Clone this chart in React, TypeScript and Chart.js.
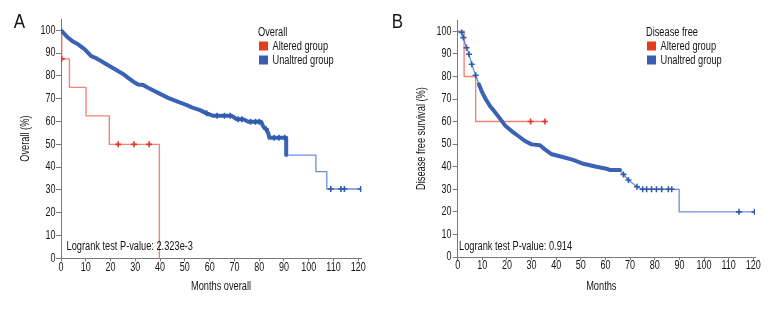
import React, { useEffect, useRef } from "react";
import { Chart, registerables } from "chart.js";
Chart.register(...registerables);

const FONT = "'Liberation Sans', Arial, sans-serif";
const SQUEEZE_TEXT = 0.74;
const SQUEEZE_TICK = 0.75;

const X_TICKS = [0, 10, 20, 30, 40, 50, 60, 70, 80, 90, 100, 110, 120];
const Y_TICKS = [0, 10, 20, 30, 40, 50, 60, 70, 80, 90, 100];

// ---------- Panel A : Overall ----------
const A_ALT_T = [0, 0.3, 3.4, 10.1, 19.5, 39.7];
const A_ALT_S = [100, 87.5, 75, 62.5, 50, 0];
const A_ALT_CENS_T = [0.3, 23.1, 29.5, 35.6];
const A_ALT_CENS_S = [87.5, 50, 50, 50];

const A_UN_T = [0, 2.8, 5, 6.9, 9.6, 12.2, 14.4, 16.3, 19.7, 23, 25.2, 27.1, 29.2, 31.1, 33.2, 35.1, 39.2, 43.2, 47.3, 50.8, 52.8, 56.1, 58.8, 61.5, 68.9, 71, 73.6, 75.6, 80.8, 81.7, 82.8, 83.7, 84.1, 90.9, 90.9, 102.9, 102.9, 107.3, 107.3, 121];
const A_UN_S = [100, 96.8, 95, 93.9, 91.7, 88.7, 87.7, 86.5, 84.3, 82.2, 80.8, 79.2, 77.5, 76.3, 76, 74.8, 72.6, 70.4, 68.6, 67.2, 66.2, 65, 63.6, 62.5, 62.5, 61, 61, 59.9, 59.9, 57.7, 56.6, 54.8, 52.9, 52.9, 45.3, 45.3, 38, 38, 30.4, 30.4];
const A_UN_DENSE_END = 91;
const A_UN_CENS_T = [58.8, 63, 66, 68.3, 71.5, 73, 76.5, 78.5, 80, 82.8, 86, 88, 90.3, 108.9, 113, 114.4, 121];
const A_UN_CENS_S = [63.6, 62.5, 62.5, 62.5, 61, 61, 59.9, 59.9, 59.9, 56.6, 52.9, 52.9, 52.9, 30.4, 30.4, 30.4, 30.4];

// ---------- Panel B : Disease free ----------
const B_ALT_T = [0, 2.6, 7.3, 35.4];
const B_ALT_S = [100, 80, 60, 60];
const B_ALT_CENS_T = [29.6, 35.4];
const B_ALT_CENS_S = [60, 60];

const B_UN_T = [0, 1.6, 2.3, 3.6, 4.6, 5.7, 7.3, 8.6, 10, 11.4, 13.1, 15.1, 17.2, 19.2, 21.9, 24.6, 27.3, 30, 33.4, 35.4, 38.2, 42.2, 46.9, 51, 56.3, 60.4, 62, 65.9, 67.3, 69.3, 72.8, 74.8, 89.9, 89.9, 120.5];
const B_UN_S = [100, 99.5, 97.2, 92.7, 89.8, 85.4, 80.5, 76.5, 72.8, 69.9, 66.9, 64.2, 61.3, 58.3, 55.8, 53.6, 51.4, 49.9, 49.5, 47.7, 45.5, 44.4, 43, 41.3, 40, 39.1, 38.5, 38.5, 36.6, 34.1, 31.1, 30, 30, 20, 20];
const B_UN_DENSE_START = 8.6;
const B_UN_DENSE_END = 66;
const B_UN_CENS_T = [1.6, 2.3, 3.6, 4.6, 5.7, 7.3, 67.3, 69.3, 72.8, 75.1, 76.7, 78.7, 80.7, 82.8, 85.5, 86.9, 114.2, 120.5];
const B_UN_CENS_S = [99.5, 97.2, 92.7, 89.8, 85.4, 80.5, 36.6, 34.1, 31.1, 30, 30, 30, 30, 30, 30, 30, 20, 20];

const RED_LINE = "rgba(240,110,95,0.85)";
const RED_MARK = "#e2352a";
const BLUE_LINE = "rgba(90,130,215,0.9)";
const BLUE_BAND = "#3a62b5";
const BLUE_MARK = "#2f5aae";
const AXIS = "#7a7a7a";
const TEXT = "#151515";

const pts = (t: number[], s: number[]) => t.map((x, i) => ({ x, y: s[i] }));

type PanelCfg = {
  letter: string;
  letterX: number;
  yTitle: string;
  yTitleX: number;
  xTitle: string;
  xTitleX: number;
  legendTitle: string;
  legendX: number;
  logrank: string;
  logrankX: number;
  left: number;
  right: number;
  top: number;
  bottom: number;
  xMax: number;
  labelRight: number;
  datasets: any[];
};

function squeezed(ctx: CanvasRenderingContext2D, text: string, x: number, y: number, align: CanvasTextAlign, sx: number, rotate = 0) {
  ctx.save();
  ctx.translate(x, y);
  if (rotate) ctx.rotate(rotate);
  ctx.scale(sx, 1);
  ctx.textAlign = align;
  ctx.fillText(text, 0, 0);
  ctx.restore();
}

function Panel({ cfg }: { cfg: PanelCfg }) {
  const ref = useRef<HTMLCanvasElement | null>(null);
  useEffect(() => {
    const canvas = ref.current!;
    const textPlugin = {
      id: "texts",
      afterDraw(chart: any) {
        const ctx = chart.ctx as CanvasRenderingContext2D;
        const area = chart.chartArea;
        const xs = chart.scales.x;
        const ys = chart.scales.y;
        ctx.save();
        ctx.fillStyle = TEXT;
        ctx.textBaseline = "middle";
        // tick labels, placed by the library's scales
        ctx.font = `12px ${FONT}`;
        xs.ticks.forEach((t: any) => {
          squeezed(ctx, String(t.value), xs.getPixelForValue(t.value), area.bottom + 9, "center", SQUEEZE_TICK);
        });
        ys.ticks.forEach((t: any) => {
          squeezed(ctx, String(t.value), cfg.labelRight, ys.getPixelForValue(t.value), "right", SQUEEZE_TICK);
        });
        // letter
        ctx.font = `20px ${FONT}`;
        squeezed(ctx, cfg.letter, cfg.letterX, 22, "center", 0.85);
        // x title
        ctx.font = `12.5px ${FONT}`;
        squeezed(ctx, cfg.xTitle, cfg.xTitleX, 287, "center", SQUEEZE_TEXT);
        // y title
        squeezed(ctx, cfg.yTitle, cfg.yTitleX, (area.top + area.bottom) / 2, "center", SQUEEZE_TEXT, -Math.PI / 2);
        // legend
        squeezed(ctx, cfg.legendTitle, cfg.legendX, 32.5, "left", SQUEEZE_TEXT);
        ctx.fillStyle = "#e23d1f";
        ctx.fillRect(cfg.legendX + 1, 41.5, 9, 9);
        ctx.fillStyle = "#3a5db2";
        ctx.fillRect(cfg.legendX + 1, 55.5, 9, 9);
        ctx.fillStyle = TEXT;
        squeezed(ctx, "Altered group", cfg.legendX + 14.5, 46.3, "left", SQUEEZE_TEXT);
        squeezed(ctx, "Unaltred group", cfg.legendX + 14.5, 60.3, "left", SQUEEZE_TEXT);
        // logrank
        squeezed(ctx, cfg.logrank, cfg.logrankX, 246.7, "left", SQUEEZE_TEXT);
        ctx.restore();
      },
    };
    const chart = new Chart(canvas, {
      type: "line",
      data: { datasets: cfg.datasets },
      options: {
        animation: false,
        responsive: false,
        devicePixelRatio: 1,
        parsing: false,
        normalized: true,
        layout: { padding: { left: 0, top: cfg.top, right: 390 - cfg.right, bottom: 0 } },
        plugins: { legend: { display: false }, tooltip: { enabled: false }, title: { display: false } },
        scales: {
          x: {
            type: "linear",
            min: 0,
            max: cfg.xMax,
            afterBuildTicks: (s: any) => {
              s.ticks = X_TICKS.map((v) => ({ value: v }));
            },
            afterFit: (s: any) => {
              s.height = 312 - cfg.bottom;
            },
            grid: { drawOnChartArea: false, drawTicks: true, tickLength: 3, color: AXIS },
            border: { display: true, color: AXIS, width: 1 },
            ticks: { display: false, autoSkip: false },
          },
          y: {
            type: "linear",
            min: 0,
            max: 105,
            afterBuildTicks: (s: any) => {
              s.ticks = Y_TICKS.map((v) => ({ value: v }));
            },
            afterFit: (s: any) => {
              s.width = cfg.left;
            },
            grid: { drawOnChartArea: false, drawTicks: true, tickLength: 5, color: AXIS },
            border: { display: true, color: AXIS, width: 1 },
            ticks: { display: false, autoSkip: false },
          },
        },
      },
      plugins: [textPlugin],
    } as any);
    return () => chart.destroy();
  }, [cfg]);
  return <canvas ref={ref} width={390} height={312} style={{ display: "block", width: 390, height: 312 }} />;
}

const lineDs = (data: any[], color: string, width: number, order: number, stepped: any = false) => ({
  data,
  borderColor: color,
  borderWidth: width,
  pointRadius: 0,
  fill: false,
  tension: 0,
  stepped,
  borderJoinStyle: "round",
  borderCapStyle: "round",
  order,
});
const censDs = (data: any[], color: string, order: number) => ({
  data,
  showLine: false,
  pointStyle: "cross",
  pointRadius: 3,
  borderColor: color,
  backgroundColor: color,
  pointBorderWidth: 1.6,
  order,
});

const aUn = pts(A_UN_T, A_UN_S);
const bUn = pts(B_UN_T, B_UN_S);

const CFG_A: PanelCfg = {
  letter: "A",
  letterX: 19.5,
  yTitle: "Overall (%)",
  yTitleX: 26,
  xTitle: "Months overall",
  xTitleX: 221,
  legendTitle: "Overall",
  legendX: 258,
  logrank: "Logrank test P-value: 2.323e-3",
  logrankX: 66.5,
  left: 61,
  right: 361.5,
  top: 19,
  bottom: 258.3,
  xMax: 121.3,
  labelRight: 55.5,
  datasets: [
    censDs(pts(A_UN_CENS_T, A_UN_CENS_S), BLUE_MARK, 0),
    lineDs(aUn.filter((p) => p.x <= A_UN_DENSE_END), BLUE_BAND, 4, 1),
    lineDs(aUn, BLUE_LINE, 1.3, 2),
    censDs(pts(A_ALT_CENS_T, A_ALT_CENS_S), RED_MARK, 3),
    lineDs(pts(A_ALT_T, A_ALT_S), RED_LINE, 1.4, 4, "before"),
  ],
};

const CFG_B: PanelCfg = {
  letter: "B",
  letterX: 7.5,
  yTitle: "Disease free survival (%)",
  yTitleX: 31.7,
  xTitle: "Months",
  xTitleX: 211.3,
  legendTitle: "Disease free",
  legendX: 256,
  logrank: "Logrank test P-value: 0.914",
  logrankX: 69,
  left: 67.7,
  right: 365,
  top: 20,
  bottom: 257,
  xMax: 120.7,
  labelRight: 61.5,
  datasets: [
    censDs(pts(B_UN_CENS_T, B_UN_CENS_S), BLUE_MARK, 0),
    lineDs(bUn.filter((p) => p.x >= B_UN_DENSE_START && p.x <= B_UN_DENSE_END), BLUE_BAND, 4, 1),
    lineDs(bUn, BLUE_LINE, 1.3, 2),
    censDs(pts(B_ALT_CENS_T, B_ALT_CENS_S), RED_MARK, 3),
    lineDs(pts(B_ALT_T, B_ALT_S), RED_LINE, 1.4, 4, "before"),
  ],
};

export default function App() {
  return (
    <div style={{ position: "absolute", left: 0, top: 0, width: 780, height: 312, background: "#fff", display: "flex" }}>
      <Panel cfg={CFG_A} />
      <Panel cfg={CFG_B} />
    </div>
  );
}
